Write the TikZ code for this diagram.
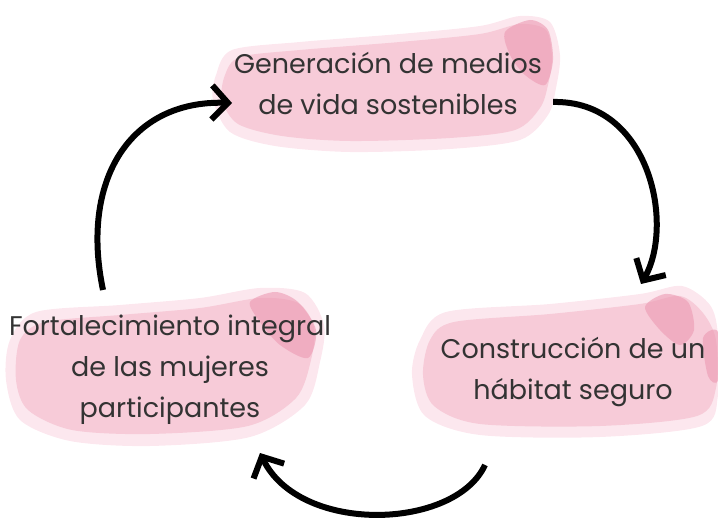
\documentclass[tikz,border=0pt]{standalone}
\usepackage{fontspec}
\setmainfont{Poppins}
\usetikzlibrary{arrows.meta}
\definecolor{blobouter}{HTML}{FCE7EE}
\definecolor{blobpink}{HTML}{F7CBD8}
\definecolor{blobdark}{HTML}{EC9AB2}
\tikzset{
  blobedge/.style={fill=blobouter, draw=none},
  blob/.style={fill=blobpink, draw=none},
  blobpatch/.style={fill=blobdark, draw=none, opacity=0.6},
  label/.style={align=center, font=\fontsize{27}{41}\selectfont, text=black!80, inner sep=0pt},
  cyc/.style={line width=6pt, -{Straight Barb[length=16pt,width=34pt,line width=6pt]}}
}
\begin{document}
\begin{tikzpicture}[x=1pt,y=-1pt]
\useasboundingbox (0,0) rectangle (718,521);
% top blob
\fill[blobedge] plot[smooth cycle] coordinates {(216,75)(232,50)(300,42)(400,34)(480,26)(520,16)(550,22)(560,55)(556,88)(548,115)(520,140)(450,149)(350,152)(275,146)(230,132)(213,100)};
\fill[blob] plot[smooth cycle] coordinates {(225,75)(240,57)(300,50)(400,42)(480,34)(520,24)(546,30)(552,58)(548,85)(540,108)(515,130)(450,138)(350,141)(282,136)(238,124)(222,100)};
\fill[blobpatch] plot[smooth cycle] coordinates {(505,32)(530,20)(548,30)(553,60)(545,85)(525,75)(510,55)};
% left blob
\fill[blobedge] plot[smooth cycle] coordinates {(10,340)(36,312)(120,305)(200,298)(260,288)(305,293)(324,325)(320,362)(305,405)(250,437)(150,446)(70,441)(20,420)(6,380)};
\fill[blob] plot[smooth cycle] coordinates {(20,340)(45,322)(120,315)(200,308)(260,298)(298,303)(314,327)(311,360)(296,398)(248,426)(150,434)(72,430)(28,410)(16,380)};
\fill[blobpatch] plot[smooth cycle] coordinates {(250,302)(275,292)(298,302)(316,330)(308,358)(280,345)(260,322)};
% right blob
\fill[blobedge] plot[smooth cycle] coordinates {(420,340)(446,312)(550,304)(640,294)(682,286)(710,305)(718,335)(718,395)(702,426)(600,437)(480,435)(425,416)(412,375)};
\fill[blob] plot[smooth cycle] coordinates {(430,340)(454,322)(550,314)(640,304)(680,296)(703,313)(716,340)(716,388)(697,416)(600,426)(480,424)(434,406)(423,375)};
\fill[blobpatch] plot[smooth cycle] coordinates {(645,307)(665,294)(688,302)(694,330)(680,345)(660,330)};
\fill[blobpatch] plot[smooth cycle] coordinates {(703,338)(718,332)(718,380)(708,376)};
% labels
\node[label] (top) at (388,83) {Generación de medios\\de vida sostenibles};
\node[label] (left) at (170,370) {Fortalecimiento integral\\de las mujeres\\participantes};
\node[label] (right) at (573,372) {Construcción de un\\hábitat seguro};
% arrow ends
\coordinate (a1s) at (553,102);
\coordinate (a1e) at (641,284);
\coordinate (a2s) at (485,465);
\coordinate (a2e) at (260,453);
\coordinate (a3s) at (103,290);
\coordinate (a3e) at (232,103);
\draw[cyc] (a1s) .. controls (650,100) and (675,225) .. (a1e);
\draw[cyc] (a2s) .. controls (455,530) and (300,535) .. (a2e);
\draw[cyc] (a3s) .. controls (80,180) and (130,100) .. (a3e);
\end{tikzpicture}
\end{document}
